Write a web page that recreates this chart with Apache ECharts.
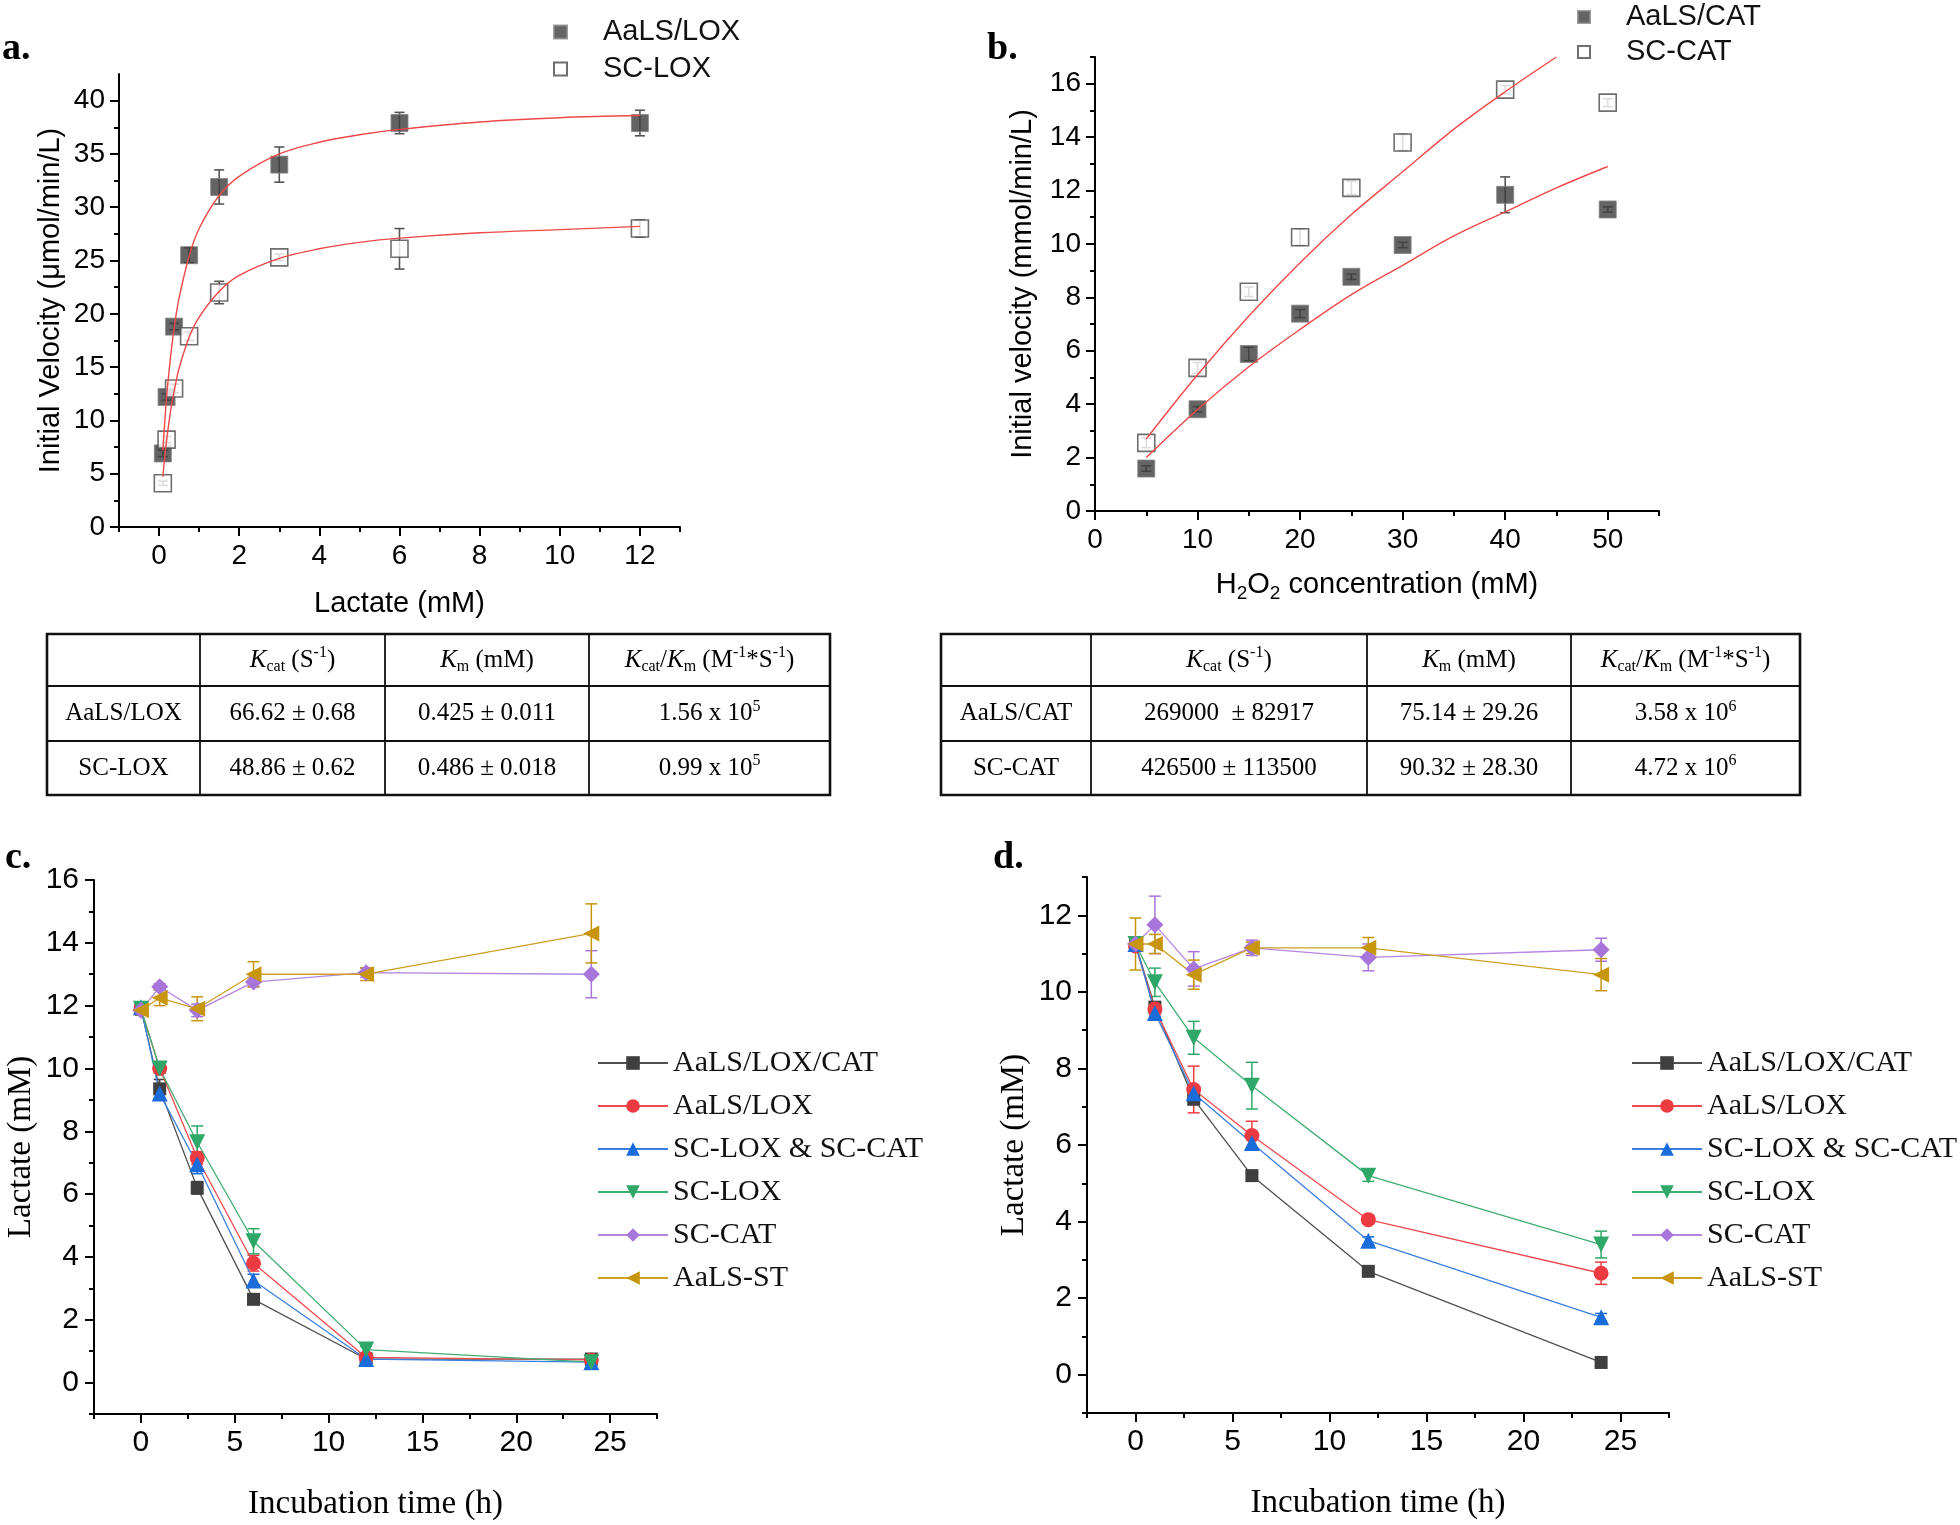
<!DOCTYPE html>
<html>
<head>
<meta charset="utf-8">
<script src="https://cdn.jsdelivr.net/npm/echarts@6.0.0/dist/echarts.min.js"></script>
<style>
html,body{margin:0;padding:0;background:#ffffff;}
#chart{width:1960px;height:1525px;}
</style>
</head>
<body>
<div id="chart"></div>
<script>
// ---------- Panel a : lactate kinetics ----------
const lactateConc = [0.094, 0.1875, 0.375, 0.75, 1.5, 3, 6, 12];
const aalsLoxVelocity = [6.9, 12.2, 18.8, 25.5, 31.9, 34.0, 37.9, 37.9];
const aalsLoxVelocityErr = [0.3, 0.3, 0.3, 0.7, 1.6, 1.65, 1.0, 1.2];
const scLoxVelocity = [4.1, 8.2, 13.0, 17.9, 22.0, 25.3, 26.1, 28.0];
const scLoxVelocityErr = [0.2, 0.3, 0.4, 0.4, 1.05, 0.3, 1.9, 0.8];
const fitLactateX = [0.094, 0.15, 0.2, 0.3, 0.4, 0.5, 0.75, 1, 1.5, 2, 3, 4, 5, 6, 8, 10, 12];
const fitAalsLox = [7.2, 10.3, 12.7, 16.4, 19.3, 21.5, 25.4, 28.0, 31.1, 32.9, 35.0, 36.1, 36.8, 37.3, 38.0, 38.4, 38.6];
const fitScLox = [4.7, 6.9, 8.5, 11.2, 13.2, 14.9, 17.8, 19.7, 22.1, 23.6, 25.2, 26.1, 26.7, 27.1, 27.6, 27.9, 28.2];

// ---------- Panel b : H2O2 kinetics ----------
const h2o2Conc = [5, 10, 15, 20, 25, 30, 40, 50];
const aalsCatVelocity = [1.59, 3.81, 5.88, 7.39, 8.77, 9.96, 11.84, 11.29];
const aalsCatVelocityErr = [0.1, 0.1, 0.25, 0.15, 0.1, 0.1, 0.67, 0.1];
const scCatVelocity = [2.55, 5.36, 8.21, 10.25, 12.1, 13.8, 15.78, 15.29];
const scCatVelocityErr = [0.18, 0.2, 0.18, 0.3, 0.25, 0.3, 0.15, 0.15];
const fitAalsCatX = [5, 10, 15, 20, 25, 30, 35, 40, 45, 50];
const fitAalsCat = [2.0, 3.8, 5.4, 6.8, 8.1, 9.2, 10.3, 11.2, 12.1, 12.9];
const fitScCatX = [5, 10, 15, 20, 25, 30, 35, 40, 45];
const fitScCat = [2.7, 5.1, 7.3, 9.3, 11.1, 12.7, 14.3, 15.7, 17.0];

// ---------- Tables ----------
const tableHeader = ['', '{i|K}{s|cat} (S{p|-1})', '{i|K}{s|m} (mM)', '{i|K}{s|cat}/{i|K}{s|m} (M{p|-1}*S{p|-1})'];
const tableARows = [
  ['AaLS/LOX', '66.62 ± 0.68', '0.425 ± 0.011', '1.56 x 10{p|5}'],
  ['SC-LOX', '48.86 ± 0.62', '0.486 ± 0.018', '0.99 x 10{p|5}']
];
const tableBRows = [
  ['AaLS/CAT', '269000  ± 82917', '75.14 ± 29.26', '3.58 x 10{p|6}'],
  ['SC-CAT', '426500 ± 113500', '90.32 ± 28.30', '4.72 x 10{p|6}']
];

// ---------- Panels c, d : lactate consumption ----------
const incubationTime = [0, 1, 3, 6, 12, 24];
const groupNames = ['AaLS/LOX/CAT', 'AaLS/LOX', 'SC-LOX & SC-CAT', 'SC-LOX', 'SC-CAT', 'AaLS-ST'];
const panelC = [
  [11.9, 9.35, 6.2, 2.65, 0.75, 0.75],
  [11.9, 10.0, 7.15, 3.8, 0.8, 0.72],
  [11.95, 9.2, 6.95, 3.25, 0.75, 0.65],
  [11.9, 10.0, 7.65, 4.5, 1.05, 0.65],
  [11.85, 12.6, 11.85, 12.75, 13.05, 13.0],
  [11.85, 12.25, 11.9, 13.0, 13.0, 14.3]
];
const panelCErr = [
  [0.1, 0.3, 0.2, 0.1, 0.1, 0.1],
  [0.1, 0.15, 0.2, 0.25, 0.1, 0.05],
  [0.1, 0.2, 0.3, 0.2, 0.1, 0.1],
  [0.1, 0.15, 0.52, 0.4, 0.1, 0.1],
  [0.1, 0.1, 0.2, 0.15, 0.15, 0.75],
  [0.15, 0.25, 0.38, 0.4, 0.2, 0.94]
];
const panelD = [
  [11.25, 9.6, 7.2, 5.2, 2.7, 0.32],
  [11.2, 9.55, 7.45, 6.25, 4.05, 2.65],
  [11.25, 9.45, 7.35, 6.05, 3.5, 1.5],
  [11.25, 10.25, 8.8, 7.55, 5.2, 3.4],
  [11.25, 11.75, 10.6, 11.15, 10.9, 11.1],
  [11.25, 11.25, 10.45, 11.15, 11.15, 10.45]
];
const panelDErr = [
  [0.1, 0.1, 0.15, 0.1, 0.1, 0.1],
  [0.1, 0.15, 0.61, 0.37, 0.1, 0.29],
  [0.1, 0.1, 0.15, 0.15, 0.1, 0.1],
  [0.1, 0.37, 0.43, 0.61, 0.15, 0.35],
  [0.1, 0.75, 0.45, 0.2, 0.35, 0.3],
  [0.68, 0.25, 0.38, 0.15, 0.27, 0.42]
];

// ---------- Tick values ----------
const aXMajor = [0, 2, 4, 6, 8, 10, 12];
const aXMinor = [-1, 1, 3, 5, 7, 9, 11, 13];
const aYMajor = [0, 5, 10, 15, 20, 25, 30, 35, 40];
const aYMinor = [2.5, 7.5, 12.5, 17.5, 22.5, 27.5, 32.5, 37.5];
const bXMajor = [0, 10, 20, 30, 40, 50];
const bXMinor = [5, 15, 25, 35, 45, 55];
const bYMajor = [0, 2, 4, 6, 8, 10, 12, 14, 16];
const bYMinor = [1, 3, 5, 7, 9, 11, 13, 15, 17];
const cdXMajor = [0, 5, 10, 15, 20, 25];
const cdXMinor = [-2.5, 2.5, 7.5, 12.5, 17.5, 22.5, 27.5];
const cYMajor = [0, 2, 4, 6, 8, 10, 12, 14, 16];
const cYMinor = [-1, 1, 3, 5, 7, 9, 11, 13, 15];
const dYMajor = [0, 2, 4, 6, 8, 10, 12];
const dYMinor = [-1, 1, 3, 5, 7, 9, 11, 13];

// ---------- styling ----------
const SANS = '"Liberation Sans", Arial, sans-serif';
const SERIF = '"Liberation Serif", "Times New Roman", serif';
const groupStyle = [
  {symbol: 'rect', rotate: 0, size: 13, color: '#3f3f3f', line: '#505050'},
  {symbol: 'circle', rotate: 0, size: 15, color: '#ee3b41', line: '#ee4a4f'},
  {symbol: 'triangle', rotate: 0, size: 16, color: '#1b6cdb', line: '#3a7fe0'},
  {symbol: 'triangle', rotate: 180, size: 16, color: '#2fa769', line: '#3fae72'},
  {symbol: 'diamond', rotate: 0, size: 17, color: '#a875da', line: '#b585e0'},
  {symbol: 'triangle', rotate: 90, size: 16, color: '#c7960d', line: '#cca024'}
];

const grids = [
  {left: 119, top: 74, width: 561, height: 453},
  {left: 1095, top: 57, width: 564, height: 454},
  {left: 94, top: 880, width: 563, height: 534},
  {left: 1087, top: 877, width: 582, height: 536}
].map(g => Object.assign({outerBoundsMode: 'none', containLabel: false}, g));

const xAxes = [], yAxes = [];
function addAxisPair(list, dim, gridIndex, cfg) {
  const idx = list.length;
  const common = {type: 'value', gridIndex, min: cfg.min, max: cfg.max, splitLine: {show: false},
    position: dim === 'x' ? 'bottom' : 'left'};
  list.push(Object.assign({}, common, {
    axisLine: {show: true, onZero: false, lineStyle: {color: '#000', width: 2}},
    axisTick: {show: true, customValues: cfg.major, length: 9, lineStyle: {color: '#000', width: 2}},
    axisLabel: {customValues: cfg.major, margin: cfg.margin, color: '#000', fontFamily: SANS, fontSize: cfg.labelSize},
    name: cfg.name, nameLocation: 'middle', nameGap: cfg.nameGap,
    nameTextStyle: cfg.nameStyle
  }));
  list.push(Object.assign({}, common, {
    axisLine: {show: false, onZero: false},
    axisTick: {show: true, customValues: cfg.minor, length: 5, lineStyle: {color: '#000', width: 2}},
    axisLabel: {show: false}
  }));
  return idx;
}
const sansName = {fontFamily: SANS, fontSize: 29, color: '#000'};
const serifName = {fontFamily: SERIF, fontSize: 33, color: '#000'};

const axA = {
  x: addAxisPair(xAxes, 'x', 0, {min: -1, max: 13, major: aXMajor, minor: aXMinor, margin: 15, labelSize: 28,
    name: 'Lactate (mM)', nameGap: 62, nameStyle: sansName}),
  y: addAxisPair(yAxes, 'y', 0, {min: 0, max: 42.5, major: aYMajor, minor: aYMinor, margin: 14, labelSize: 28,
    name: 'Initial Velocity (μmol/min/L)', nameGap: 54, nameStyle: sansName})
};
const axB = {
  x: addAxisPair(xAxes, 'x', 1, {min: 0, max: 55, major: bXMajor, minor: bXMinor, margin: 15, labelSize: 28,
    name: 'H{sub|2}O{sub|2} concentration (mM)', nameGap: 56,
    nameStyle: Object.assign({lineHeight: 36, rich: {sub: {fontFamily: SANS, fontSize: 19, lineHeight: 18, verticalAlign: 'bottom', color: '#000'}}}, sansName)}),
  y: addAxisPair(yAxes, 'y', 1, {min: 0, max: 17, major: bYMajor, minor: bYMinor, margin: 14, labelSize: 28,
    name: 'Initial velocity (mmol/min/L)', nameGap: 58, nameStyle: sansName})
};
const axC = {
  x: addAxisPair(xAxes, 'x', 2, {min: -2.5, max: 27.5, major: cdXMajor, minor: cdXMinor, margin: 14, labelSize: 30,
    name: 'Incubation time (h)', nameGap: 74, nameStyle: serifName}),
  y: addAxisPair(yAxes, 'y', 2, {min: -1, max: 16, major: cYMajor, minor: cYMinor, margin: 15, labelSize: 30,
    name: 'Lactate (mM)', nameGap: 56, nameStyle: serifName})
};
const axD = {
  x: addAxisPair(xAxes, 'x', 3, {min: -2.5, max: 27.5, major: cdXMajor, minor: cdXMinor, margin: 14, labelSize: 30,
    name: 'Incubation time (h)', nameGap: 74, nameStyle: serifName}),
  y: addAxisPair(yAxes, 'y', 3, {min: -1, max: 13, major: dYMajor, minor: dYMinor, margin: 15, labelSize: 30,
    name: 'Lactate (mM)', nameGap: 56, nameStyle: serifName})
};

function errRender(color, cap, width) {
  return function (params, api) {
    const x = api.value(0), y = api.value(1), e = api.value(2);
    const hi = api.coord([x, y + e]), lo = api.coord([x, y - e]);
    const hw = cap / 2;
    const style = {stroke: color, lineWidth: width};
    return {type: 'group', children: [
      {type: 'line', shape: {x1: hi[0], y1: hi[1], x2: lo[0], y2: lo[1]}, style},
      {type: 'line', shape: {x1: hi[0] - hw, y1: hi[1], x2: hi[0] + hw, y2: hi[1]}, style},
      {type: 'line', shape: {x1: lo[0] - hw, y1: lo[1], x2: lo[0] + hw, y2: lo[1]}, style}
    ]};
  };
}
function errSeries(ax, xs, ys, es, color, cap, width) {
  return {type: 'custom', xAxisIndex: ax.x, yAxisIndex: ax.y, silent: true,
    data: xs.map((x, i) => [x, ys[i], es[i]]), encode: {x: 0, y: 1},
    renderItem: errRender(color, cap, width)};
}
const zip = (xs, ys) => xs.map((x, i) => [x, ys[i]]);

const filledSq = {color: '#3d3d3d', borderColor: '#858585', borderWidth: 1};
const openSq = {color: '#ffffff', borderColor: '#4a4a4a', borderWidth: 1.6};
const fitLine = (ax, name, xs, ys) => ({type: 'line', name, xAxisIndex: ax.x, yAxisIndex: ax.y, data: zip(xs, ys),
  smooth: 0.35, showSymbol: false, symbol: 'none', silent: true, z: 5, lineStyle: {color: '#f04848', width: 1.4}});

const series = [];
// panel a
series.push(errSeries(axA, lactateConc, aalsLoxVelocity, aalsLoxVelocityErr, '#555', 10, 1.6));
series.push({type: 'scatter', name: 'a:AaLS/LOX', xAxisIndex: axA.x, yAxisIndex: axA.y, symbol: 'rect', symbolSize: 17,
  data: zip(lactateConc, aalsLoxVelocity), itemStyle: filledSq});
series.push({type: 'scatter', name: 'a:SC-LOX', xAxisIndex: axA.x, yAxisIndex: axA.y, symbol: 'rect', symbolSize: 17,
  data: zip(lactateConc, scLoxVelocity), itemStyle: openSq});
series.push(errSeries(axA, lactateConc, scLoxVelocity, scLoxVelocityErr, '#555', 10, 1.6));
series.push(fitLine(axA, 'fitA1', fitLactateX, fitAalsLox));
series.push(fitLine(axA, 'fitA2', fitLactateX, fitScLox));
// panel b
series.push(errSeries(axB, h2o2Conc, aalsCatVelocity, aalsCatVelocityErr, '#555', 10, 1.6));
series.push({type: 'scatter', name: 'b:AaLS/CAT', xAxisIndex: axB.x, yAxisIndex: axB.y, symbol: 'rect', symbolSize: 17,
  data: zip(h2o2Conc, aalsCatVelocity), itemStyle: filledSq});
series.push({type: 'scatter', name: 'b:SC-CAT', xAxisIndex: axB.x, yAxisIndex: axB.y, symbol: 'rect', symbolSize: 17,
  data: zip(h2o2Conc, scCatVelocity), itemStyle: openSq});
series.push(errSeries(axB, h2o2Conc, scCatVelocity, scCatVelocityErr, '#555', 10, 1.6));
series.push(fitLine(axB, 'fitB1', fitAalsCatX, fitAalsCat));
series.push(fitLine(axB, 'fitB2', fitScCatX, fitScCat));
// panels c, d
[[axC, panelC, panelCErr], [axD, panelD, panelDErr]].forEach(([ax, vals, errs]) => {
  groupNames.forEach((name, k) => {
    const st = groupStyle[k];
    series.push(errSeries(ax, incubationTime, vals[k], errs[k], st.color, 12, 1.5));
    series.push({type: 'line', name, xAxisIndex: ax.x, yAxisIndex: ax.y, data: zip(incubationTime, vals[k]),
      symbol: st.symbol, symbolRotate: st.rotate, symbolSize: st.size, showSymbol: true,
      lineStyle: {color: st.line, width: 1.3}, itemStyle: {color: st.color}, z: 3});
  });
});

// ---------- graphics: panel letters & tables ----------
const graphics = [];
const panelLetters = [['a.', 2, 49], ['b.', 987, 49], ['c.', 5, 858], ['d.', 993, 858]];
panelLetters.forEach(([t, x, y]) => graphics.push({type: 'text', x, y,
  style: {text: t, fontFamily: SERIF, fontWeight: 'bold', fontSize: 38, fill: '#000', verticalAlign: 'middle'}}));

function drawTable(cols, rows, head, body) {
  const rich = {
    i: {fontFamily: SERIF, fontStyle: 'italic', fontSize: 25, fill: '#000', lineHeight: 30},
    s: {fontFamily: SERIF, fontSize: 16, fill: '#000', lineHeight: 14, verticalAlign: 'bottom'},
    p: {fontFamily: SERIF, fontSize: 16, fill: '#000', lineHeight: 16, verticalAlign: 'top'}
  };
  const L = cols[0], R = cols[cols.length - 1], T = rows[0], B = rows[rows.length - 1];
  graphics.push({type: 'rect', shape: {x: L, y: T, width: R - L, height: B - T}, style: {fill: 'none', stroke: '#111', lineWidth: 2.6}});
  cols.slice(1, -1).forEach(c => graphics.push({type: 'line', shape: {x1: c, y1: T, x2: c, y2: B}, style: {stroke: '#111', lineWidth: 1.8}}));
  rows.slice(1, -1).forEach(r => graphics.push({type: 'line', shape: {x1: L, y1: r, x2: R, y2: r}, style: {stroke: '#111', lineWidth: 1.8}}));
  [head].concat(body).forEach((row, ri) => {
    row.forEach((txt, ci) => {
      if (!txt) return;
      graphics.push({type: 'text', x: (cols[ci] + cols[ci + 1]) / 2, y: (rows[ri] + rows[ri + 1]) / 2,
        style: {text: txt, fontFamily: SERIF, fontSize: 25, fill: '#000', lineHeight: 30,
          align: 'center', verticalAlign: 'middle', rich}});
    });
  });
}
drawTable([47, 200, 385, 589, 830], [634, 686, 741, 795], tableHeader, tableARows);
drawTable([941, 1091, 1367, 1571, 1800], [634, 686, 741, 795], tableHeader, tableBRows);

const stripPrefix = n => n.replace(/^[ab]:/, '');
const option = {
  animation: false,
  backgroundColor: '#ffffff',
  grid: grids,
  xAxis: xAxes,
  yAxis: yAxes,
  legend: [
    {left: 548, top: 12, orient: 'vertical', itemWidth: 13, itemHeight: 13, itemGap: 7, selectedMode: false,
      data: ['a:AaLS/LOX', 'a:SC-LOX'], formatter: stripPrefix,
      textStyle: {fontFamily: SANS, fontSize: 29, color: '#111', lineHeight: 30, padding: [0, 0, 0, 31]}},
    {left: 1572, top: -3, orient: 'vertical', itemWidth: 12, itemHeight: 12, itemGap: 5, selectedMode: false,
      data: ['b:AaLS/CAT', 'b:SC-CAT'], formatter: stripPrefix,
      textStyle: {fontFamily: SANS, fontSize: 29, color: '#111', lineHeight: 30, padding: [0, 0, 0, 31]}},
    {left: 592, top: 1042, orient: 'vertical', itemWidth: 70, itemHeight: 17, itemGap: 11, selectedMode: false,
      data: groupNames, textStyle: {fontFamily: SERIF, fontSize: 30, color: '#111', lineHeight: 32}},
    {left: 1626, top: 1042, orient: 'vertical', itemWidth: 70, itemHeight: 17, itemGap: 11, selectedMode: false,
      data: groupNames, textStyle: {fontFamily: SERIF, fontSize: 30, color: '#111', lineHeight: 32}}
  ],
  graphic: graphics,
  series
};
const chart = echarts.init(document.getElementById('chart'));
chart.setOption(option);
</script>
</body>
</html>
